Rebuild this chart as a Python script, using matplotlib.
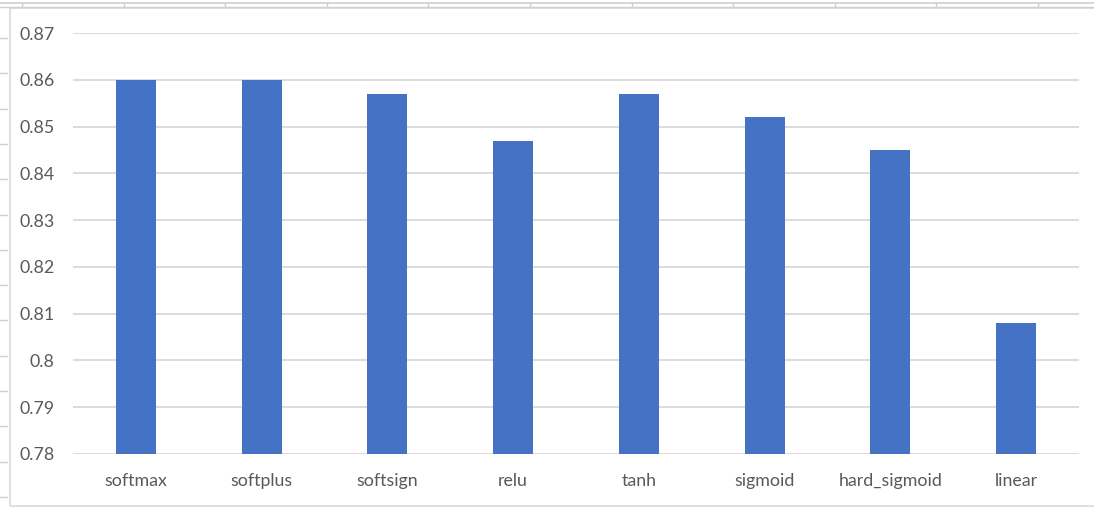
import matplotlib.pyplot as plt
from matplotlib.lines import Line2D
from matplotlib.patches import Rectangle

# datos
funciones = ["softmax", "softplus", "softsign", "relu", "tanh",
             "sigmoid", "hard_sigmoid", "linear"]
precision = [0.860, 0.860, 0.857, 0.847, 0.857, 0.852, 0.845, 0.808]
yticks = [0.78, 0.79, 0.80, 0.81, 0.82, 0.83, 0.84, 0.85, 0.86, 0.87]
ytick_labels = ["0.78", "0.79", "0.8", "0.81", "0.82", "0.83",
                "0.84", "0.85", "0.86", "0.87"]

W, H = 1094, 508
BAR_COLOR = "#4472C4"
GRID_COLOR = "#D9D9D9"
TEXT_COLOR = "#595959"

plt.rcParams["font.family"] = ["Lato", "DejaVu Sans"]

fig = plt.figure(figsize=(W / 100, H / 100), dpi=100)

# fondo de hoja de calculo (lineas de celdas)
sheet = "#D0D0D0"
fig.add_artist(Line2D([0, 1], [1 - 3 / H, 1 - 3 / H], color=sheet, lw=1.2))
fig.add_artist(Line2D([0, 1], [1 - 7 / H, 1 - 7 / H], color=sheet, lw=1.0))
x = 22
while x < W:
    fig.add_artist(Line2D([x / W, x / W], [1 - 7 / H, 1 - 3 / H], color=sheet, lw=1.0))
    x += 101.6
y = 38
while y < H:
    fig.add_artist(Line2D([0, 7 / W], [1 - y / H, 1 - y / H], color=sheet, lw=1.0))
    y += 35.3

# borde del grafico
fig.add_artist(Rectangle((10 / W, 1 - 506 / H), (W - 8) / W, (506 - 8) / H,
                         transform=fig.transFigure, facecolor="none",
                         edgecolor=GRID_COLOR, lw=1.2))

ax = fig.add_axes([73 / W, 1 - 454 / H, (1079 - 73) / W, (454 - 33) / H])
ax.set_facecolor("none")

pos = range(len(funciones))
ax.bar(pos, precision, width=0.32, color=BAR_COLOR, zorder=3)

ax.set_xlim(-0.5, len(funciones) - 0.5)
ax.set_ylim(0.78, 0.87)
ax.set_yticks(yticks)
ax.set_yticklabels(ytick_labels)
ax.set_xticks(list(pos))
ax.set_xticklabels(funciones)

ax.yaxis.grid(True, color=GRID_COLOR, lw=1.3, zorder=0)
for s in ax.spines.values():
    s.set_visible(False)
ax.tick_params(axis="both", length=0, labelsize=12.8, colors=TEXT_COLOR)
ax.tick_params(axis="y", pad=13.5)
ax.tick_params(axis="x", pad=14)

fig.savefig("out.png", dpi=100)
